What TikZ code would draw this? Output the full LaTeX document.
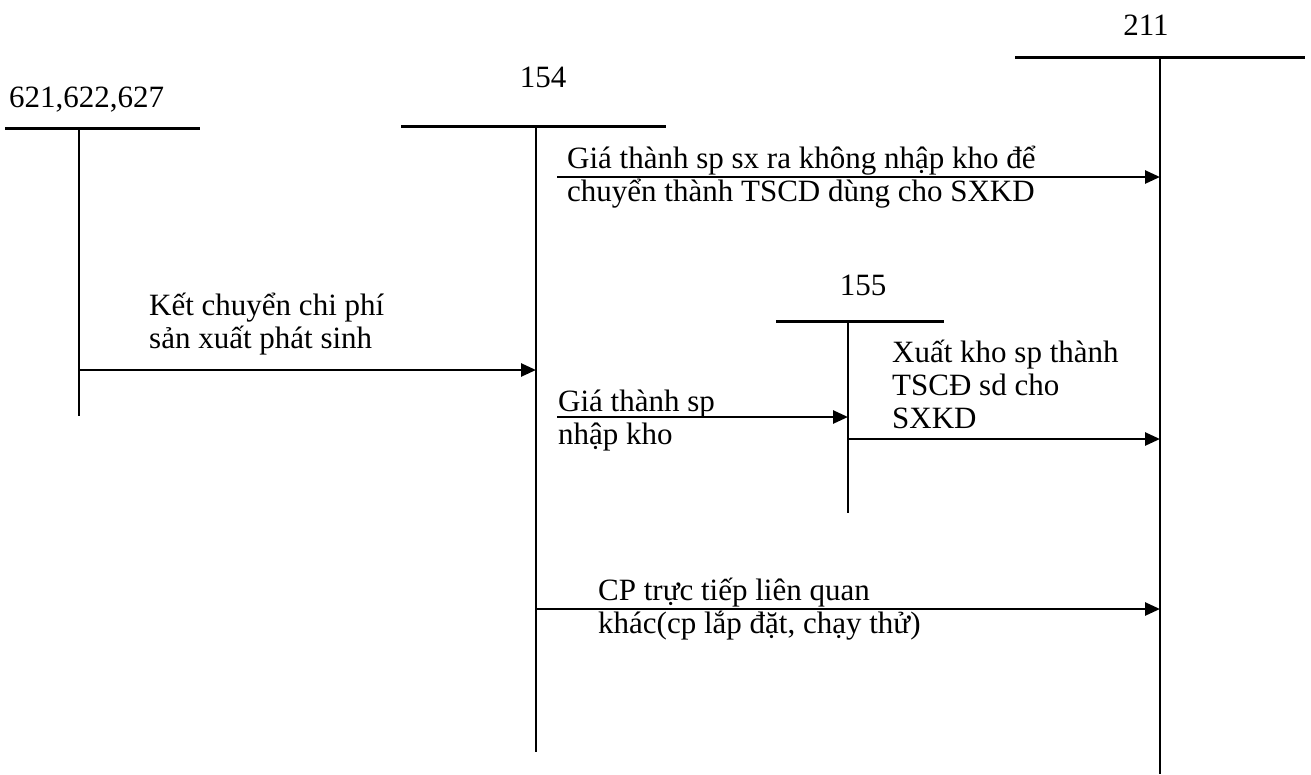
\documentclass[tikz,border=0pt]{standalone}
\usepackage{fontspec}
\setmainfont{Liberation Serif}
\usetikzlibrary{arrows.meta}
\begin{document}
\begin{tikzpicture}[x=1pt,y=-1pt,
  lbl/.style={anchor=base west, inner sep=0pt, font=\fontsize{31}{33}\selectfont, align=left},
  acct/.style={anchor=base, inner sep=0pt, font=\fontsize{31}{33}\selectfont},
  hline/.style={line width=3pt},
  vline/.style={line width=1.6pt},
  flow/.style={line width=2.6pt, -{Triangle[length=15pt,width=13pt]}}]
\useasboundingbox (0,0) rectangle (1311,774);
% account tops and bottoms
\coordinate (t621) at (79,128);  \coordinate (b621) at (79,416);
\coordinate (t154) at (536,126); \coordinate (b154) at (536,752);
\coordinate (t155) at (848,321); \coordinate (b155) at (848,513);
\coordinate (t211) at (1160,57); \coordinate (b211) at (1160,774);
% account headers
\node[acct, anchor=base west] (n621) at (9,107) {621,622,627};
\node[acct] (n154) at (543,87) {154};
\node[acct] (n155) at (863,295) {155};
\node[acct] (n211) at (1146,35) {211};
% T accounts
\draw[hline] (5,128) -- (200,128);
\draw[vline] (t621) -- (b621);
\draw[hline] (401,126) -- (666,126);
\draw[vline] (t154) -- (b154);
\draw[hline] (776,321) -- (944,321);
\draw[vline] (t155) -- (b155);
\draw[hline] (1015,57) -- (1305,57);
\draw[vline] (t211) -- (b211);
% arrow start points
\coordinate (s1) at (557,177);
\coordinate (s2) at (79,370);
\coordinate (s3) at (557,417);
\coordinate (s4) at (848,439);
\coordinate (s5) at (536,609);
\draw[flow] (s1) -- (s1 -| t211);
\draw[flow] (s2) -- (s2 -| t154);
\draw[flow] (s3) -- (s3 -| t155);
\draw[flow] (s4) -- (s4 -| t211);
\draw[flow] (s5) -- (s5 -| t211);
% labels (anchored at the baseline of the last line)
\node[lbl] (l1) at (567,201) {Giá thành sp sx ra không nhập kho để\\chuyển thành TSCD dùng cho SXKD};
\node[lbl] (l2) at (149,348) {Kết chuyển chi phí\\sản xuất phát sinh};
\node[lbl] (l3) at (558,444) {Giá thành sp\\nhập kho};
\node[lbl] (l4) at (892,428) {Xuất kho sp thành\\TSCĐ sd cho\\SXKD};
\node[lbl] (l5) at (598,633) {CP trực tiếp liên quan\\khác(cp lắp đặt, chạy thử)};
\end{tikzpicture}
\end{document}
